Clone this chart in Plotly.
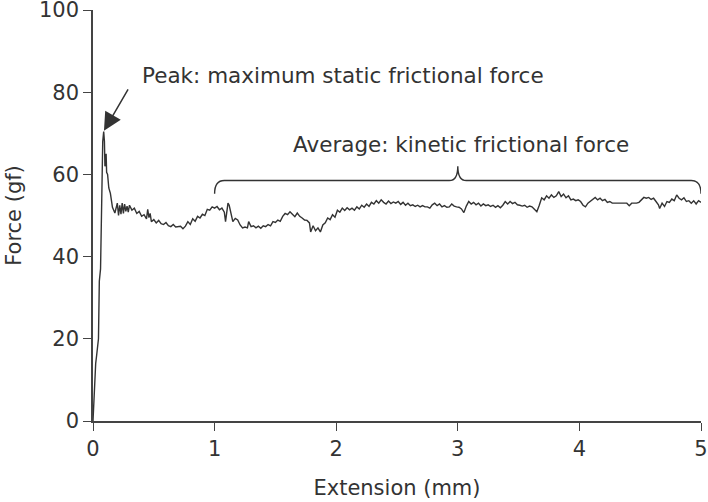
import plotly.graph_objects as go

# Extension (mm) and force (gf)
extension = [
    0, 0.01, 0.022, 0.03, 0.045, 0.052, 0.062, 0.072, 0.08, 0.088, 0.094, 0.098, 0.103, 0.108, 0.112,
    0.12, 0.13, 0.143, 0.16, 0.18, 0.195,
    0.2, 0.21, 0.22, 0.23, 0.24, 0.25, 0.26, 0.27, 0.28, 0.29, 0.30,
    0.32, 0.34, 0.36, 0.38, 0.40, 0.42, 0.44, 0.45, 0.46, 0.47, 0.48, 0.50,
    0.52, 0.54, 0.56, 0.58, 0.60, 0.62, 0.64, 0.66, 0.68, 0.70, 0.72, 0.74, 0.76, 0.78, 0.80,
    0.82, 0.84, 0.86, 0.88, 0.90, 0.92, 0.94, 0.96, 0.98, 1.00, 1.02, 1.04, 1.06, 1.08, 1.09,
    1.10, 1.11, 1.12, 1.13, 1.15, 1.17, 1.19, 1.21, 1.23, 1.25, 1.27, 1.28, 1.30, 1.32, 1.34,
    1.36, 1.38, 1.40, 1.42, 1.44, 1.46, 1.48, 1.50, 1.52, 1.54, 1.56, 1.58, 1.60, 1.62, 1.64,
    1.66, 1.68, 1.70, 1.72, 1.74, 1.76, 1.78, 1.79, 1.81, 1.83, 1.85, 1.87, 1.89, 1.91, 1.93,
    1.95, 1.97, 1.99, 2.01, 2.03, 2.05, 2.07, 2.09, 2.11, 2.13, 2.15, 2.17, 2.19, 2.21, 2.23,
    2.25, 2.27, 2.29, 2.31, 2.33, 2.35, 2.37, 2.39, 2.41, 2.43, 2.45, 2.47, 2.49, 2.51, 2.53,
    2.55, 2.57, 2.59, 2.61, 2.63, 2.65, 2.67, 2.69, 2.71, 2.73, 2.75, 2.77, 2.79, 2.81, 2.83,
    2.85, 2.87, 2.89, 2.91, 2.93, 2.95, 2.97, 2.99, 3.01, 3.03, 3.05, 3.07, 3.09, 3.11, 3.13,
    3.15, 3.17, 3.19, 3.21, 3.23, 3.25, 3.27, 3.29, 3.31, 3.33, 3.35, 3.37, 3.39, 3.41, 3.43,
    3.45, 3.47, 3.49, 3.51, 3.53, 3.55, 3.57, 3.59, 3.61, 3.63, 3.65, 3.67, 3.69, 3.71, 3.73,
    3.75, 3.77, 3.79, 3.81, 3.83, 3.85, 3.87, 3.89, 3.91, 3.93, 3.95, 3.97, 3.99, 4.01, 4.03,
    4.05, 4.07, 4.09, 4.11, 4.13, 4.15, 4.17, 4.19, 4.21, 4.23, 4.25, 4.27, 4.29, 4.31, 4.33,
    4.35, 4.37, 4.39, 4.41, 4.43, 4.45, 4.47, 4.49, 4.51, 4.53, 4.55, 4.57, 4.59, 4.61, 4.63,
    4.65, 4.66, 4.68, 4.70, 4.72, 4.74, 4.76, 4.78, 4.80, 4.82, 4.84, 4.86, 4.88, 4.90, 4.92,
    4.94, 4.96, 4.98, 5.00,
]
force = [
    0, 8, 14, 16, 20, 34, 37, 54, 68, 70.4, 68, 62, 62.5, 65, 60.5,
    60, 56.7, 55.4, 52, 50.6, 52.5,
    53, 50, 52.5, 50.3, 53, 50.5, 52.8, 51, 52.3, 50.8, 52.5,
    51.3, 51.8, 50.5, 51, 49.8, 50.2, 49.2, 51.5, 49.5, 50.5, 48.5, 49,
    48.2, 48.8, 48, 47.8, 48.3, 47.5, 47.3, 47.8, 47.2, 47.3, 47.4, 46.8, 47.4, 48.5, 47.8,
    49.2, 48.6, 49.8, 49.4, 50.3, 50, 51.5, 51.3, 52.1, 51.8, 52.2, 51.4, 51.8, 50.8, 48.5,
    51, 53, 52.5, 51, 48.5, 49.3, 48.9, 47.7, 47, 47.2, 47, 48.5, 47.3, 47.5, 47,
    47.4, 46.9, 47.5, 47.3, 47.8, 47.5, 48.5, 48.3, 48.9, 48.6, 49.8, 50.5, 50.2, 50.9, 50.3,
    49.7, 50.6, 49.8, 49.4, 48.9, 48.8, 48.2, 46, 47.5, 46.3, 47, 46, 47.7, 48.2, 49.4,
    49, 50.2, 49.6, 51.3, 50.8, 51.8, 51.2, 51.9, 51.4, 51.8, 51.3, 52.1, 51.6, 52.5, 52,
    52.8, 52.2, 53.2, 52.8, 53.6, 53, 53.8, 53.2, 52.8, 53.5, 52.9, 53.3, 53, 53.4, 52.7,
    53.2, 52.5, 53, 52.4, 52.6, 52.2, 52.5, 52.1, 52.4, 52.1, 52.1, 51.8, 52.6, 53, 52.4,
    52.8, 52.1, 52.4, 52, 52.1, 52.8, 52.3, 52.1, 52, 51.6, 50.7, 52.3, 53.4, 52.8, 53.2,
    52.6, 53, 52.3, 52.8, 52.4, 52.6, 52.2, 52.5, 52, 52.4, 51.9, 52.5, 53.4, 52.8, 53.4,
    52.9, 53.2, 52.6, 52.5, 52.3, 52.5, 52, 52.3, 52.1, 51.5, 50.9, 52.5, 54.3, 53.8, 54.8,
    54.2, 55, 54.4, 54.8, 55.8, 54.6, 55.2, 54.3, 54.8, 53.8, 54, 53.6, 53.8, 53.4, 52.5,
    52.1, 53, 53.4, 54, 54.4, 53.8, 54.2, 53.6, 53.9, 53.2, 53.4, 53, 53, 53, 53,
    53, 53.1, 53, 52.4, 53, 53, 53, 53.2, 53.8, 54.4, 54.2, 54.4, 53.9, 54.2, 53.4,
    52.6, 51.7, 53, 52.2, 53.4, 53.2, 54, 53.6, 55, 54.2, 53.8, 54.3, 53.4, 53.6, 53,
    53.6, 52.8, 53.6, 53.2,
]

x_ticks = [0, 1, 2, 3, 4, 5]
y_ticks = [0, 20, 40, 60, 80, 100]

ink = "#333333"
font_family = "DejaVu Sans, Liberation Sans, Arial, sans-serif"

fig = go.Figure()
fig.add_trace(go.Scatter(
    x=extension, y=force, mode="lines",
    line=dict(color=ink, width=1.4),
    hoverinfo="skip", showlegend=False, cliponaxis=False,
))

# curly bracket over the kinetic region
fig.add_shape(
    type="path", xref="x", yref="y",
    path=("M 1.0,55.3 Q 1.0,58.5 1.08,58.5 L 2.93,58.5 Q 3.0,58.5 3.0,62 "
          "Q 3.0,58.5 3.07,58.5 L 4.92,58.5 Q 5.0,58.5 5.0,55.3"),
    line=dict(color=ink, width=1.4),
)

fig.add_annotation(
    x=0.09, y=70.6, xref="x", yref="y",
    ax=25, ay=-43, axref="pixel", ayref="pixel",
    text="", showarrow=True, arrowhead=2, arrowsize=2.4, arrowwidth=1.5,
    arrowcolor=ink,
)
fig.add_annotation(
    x=0.39, y=84, xref="x", yref="y", xanchor="left", yanchor="middle",
    text="Peak: maximum static frictional force", showarrow=False,
    font=dict(size=21.5, color=ink, family=font_family),
)
fig.add_annotation(
    x=3.03, y=67.3, xref="x", yref="y", xanchor="center", yanchor="middle",
    text="Average: kinetic frictional force", showarrow=False,
    font=dict(size=21.5, color=ink, family=font_family),
)

axis_common = dict(
    showgrid=False, zeroline=False, showline=True, linecolor="#444444", linewidth=1.5,
    ticks="outside", ticklen=8, tickwidth=1.3, tickcolor="#444444",
    tickfont=dict(size=21, color=ink, family=font_family),
    automargin=False, ticklabeloverflow="allow",
)
fig.update_xaxes(
    range=[0, 5], tickvals=x_ticks, ticktext=[str(v) for v in x_ticks],
    title=dict(text="Extension (mm)", font=dict(size=21, color=ink, family=font_family), standoff=20),
    **axis_common,
)
fig.update_yaxes(
    range=[0, 100], tickvals=y_ticks, ticktext=[str(v) for v in y_ticks],
    title=dict(text="Force (gf)", font=dict(size=21, color=ink, family=font_family), standoff=12),
    **axis_common,
)

fig.update_layout(
    width=708, height=502,
    margin=dict(l=93, r=7, t=10, b=81, autoexpand=False),
    plot_bgcolor="white", paper_bgcolor="white",
    font=dict(family=font_family, color=ink),
)

fig.write_html("out.html", config={"displayModeBar": False},
               post_script="document.body.style.margin='0';")
